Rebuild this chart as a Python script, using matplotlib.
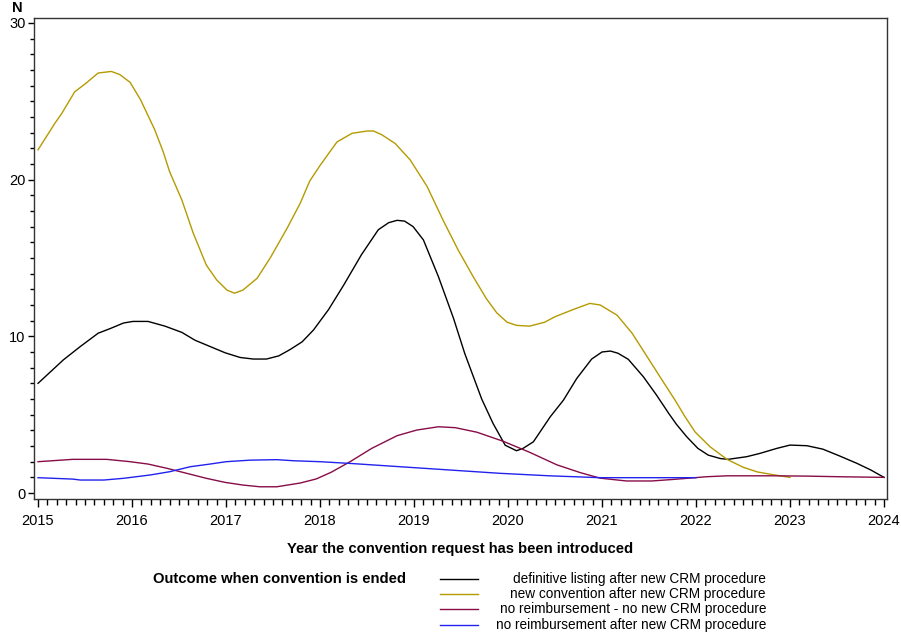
import matplotlib
matplotlib.use("Agg")
import matplotlib.pyplot as plt
from matplotlib.lines import Line2D
from matplotlib.ticker import MultipleLocator

plt.rcParams['font.family'] = ['Liberation Sans', 'DejaVu Sans']

# Valeurs (année, N)
def_years = [2015.00, 2015.27, 2015.45, 2015.64, 2015.77, 2015.91, 2016.01, 2016.17, 2016.35,
             2016.53, 2016.67, 2016.83, 2016.99, 2017.15, 2017.29, 2017.43, 2017.56, 2017.68,
             2017.81, 2017.93, 2018.09, 2018.25, 2018.44, 2018.62, 2018.73, 2018.82, 2018.90,
             2018.99, 2019.10, 2019.26, 2019.42, 2019.54, 2019.72, 2019.84, 2019.97, 2020.09,
             2020.16, 2020.27, 2020.45, 2020.59, 2020.73, 2020.89, 2021.00, 2021.09, 2021.17,
             2021.28, 2021.44, 2021.58, 2021.71, 2021.79, 2021.90, 2022.02, 2022.13, 2022.26,
             2022.34, 2022.54, 2022.68, 2022.86, 2023.00, 2023.18, 2023.35, 2023.53, 2023.71,
             2023.86, 2024.00]
def_n = [7.0, 8.5, 9.35, 10.2, 10.5, 10.85, 10.95, 10.95, 10.65,
         10.25, 9.75, 9.35, 8.95, 8.65, 8.55, 8.55, 8.75, 9.15,
         9.65, 10.4, 11.7, 13.25, 15.2, 16.8, 17.25, 17.4, 17.35,
         17.0, 16.15, 13.8, 11.15, 8.9, 6.0, 4.45, 3.05, 2.7,
         2.85, 3.27, 4.87, 5.93, 7.3, 8.55, 9.0, 9.06, 8.92,
         8.53, 7.42, 6.25, 5.08, 4.4, 3.6, 2.85, 2.42, 2.2,
         2.15, 2.32, 2.53, 2.85, 3.06, 3.02, 2.8, 2.36, 1.9,
         1.47, 1.0]

conv_years = [2015.00, 2015.18, 2015.25, 2015.39, 2015.50, 2015.64, 2015.78, 2015.87, 2015.98,
              2016.09, 2016.24, 2016.33, 2016.40, 2016.53, 2016.65, 2016.79, 2016.90, 2017.01,
              2017.09, 2017.18, 2017.33, 2017.47, 2017.65, 2017.79, 2017.89, 2018.00, 2018.18,
              2018.34, 2018.50, 2018.57, 2018.66, 2018.80, 2018.96, 2019.14, 2019.31, 2019.47,
              2019.63, 2019.77, 2019.88, 2019.99, 2020.09, 2020.23, 2020.39, 2020.50, 2020.69,
              2020.87, 2020.98, 2021.16, 2021.32, 2021.48, 2021.64, 2021.78, 2021.88, 2021.99,
              2022.15, 2022.33, 2022.50, 2022.65, 2022.79, 2023.00]
conv_n = [21.9, 23.6, 24.2, 25.6, 26.1, 26.8, 26.9, 26.7, 26.2,
          25.1, 23.2, 21.8, 20.5, 18.7, 16.6, 14.55, 13.6, 12.95,
          12.75, 12.95, 13.7, 15.0, 16.9, 18.5, 19.9, 20.9, 22.4,
          22.95, 23.1, 23.1, 22.85, 22.3, 21.25, 19.55, 17.4, 15.5,
          13.8, 12.4, 11.5, 10.9, 10.7, 10.65, 10.9, 11.25, 11.7,
          12.1, 12.0, 11.35, 10.2, 8.7, 7.2, 5.9, 4.9, 3.9,
          2.95, 2.15, 1.65, 1.35, 1.2, 1.0]

noreimb_years = [2015.00, 2015.37, 2015.73, 2015.98, 2016.17, 2016.37, 2016.58, 2016.79, 2016.99,
                 2017.18, 2017.36, 2017.54, 2017.79, 2017.96, 2018.12, 2018.32, 2018.55, 2018.82,
                 2019.03, 2019.26, 2019.44, 2019.67, 2019.95, 2020.23, 2020.52, 2020.77, 2020.98,
                 2021.26, 2021.53, 2021.76, 2021.99, 2022.11, 2022.33, 2022.82, 2023.18, 2023.53,
                 2024.00]
noreimb_n = [2.0, 2.15, 2.15, 2.0, 1.85, 1.58, 1.26, 0.94, 0.68,
             0.51, 0.40, 0.40, 0.64, 0.9, 1.33, 2.0, 2.85, 3.66,
             4.02, 4.23, 4.17, 3.88, 3.3, 2.6, 1.8, 1.3, 0.95,
             0.77, 0.77, 0.87, 0.98, 1.04, 1.10, 1.10, 1.08, 1.04,
             1.0]

after_years = [2015.00, 2015.37, 2015.45, 2015.70, 2015.91, 2016.19, 2016.40, 2016.62, 2016.83,
               2017.00, 2017.26, 2017.54, 2017.72, 2018.00, 2018.32, 2018.85, 2019.38, 2019.91,
               2020.44, 2020.98, 2022.00]
after_n = [0.98, 0.89, 0.83, 0.83, 0.94, 1.15, 1.36, 1.68, 1.85,
           2.0, 2.1, 2.13, 2.06, 2.0, 1.89, 1.68, 1.47, 1.26,
           1.10, 0.98, 0.98]

series = [
    (def_years, def_n, 'definitive listing after new CRM procedure', '#000000'),
    (conv_years, conv_n, 'new convention after new CRM procedure', '#B59A00'),
    (noreimb_years, noreimb_n, 'no reimbursement - no new CRM procedure', '#880C48'),
    (after_years, after_n, 'no reimbursement after new CRM procedure', '#2222EE'),
]

fig = plt.figure(figsize=(9.01, 6.38), dpi=100)
W, H = 901, 638
ax = fig.add_axes([34 / W, 1 - 499 / H, (887 - 34) / W, (499 - 18) / H])

for x, y, lab, col in series:
    ax.plot(x, y, color=col, lw=1.0, label=lab)

ax.set_xlim(2014.957, 2024.032)
ax.set_ylim(-0.38, 30.31)
ax.set_xticks(range(2015, 2025))
ax.set_yticks([0, 10, 20, 30])
ax.xaxis.set_minor_locator(MultipleLocator(0.1))
ax.yaxis.set_minor_locator(MultipleLocator(1))
ax.tick_params(axis='x', which='major', length=6, width=1, labelsize=10.5, pad=5)
ax.tick_params(axis='x', which='minor', length=4, width=1)
ax.tick_params(axis='y', which='major', length=4, width=1, labelsize=10.5, pad=2)
ax.tick_params(axis='y', which='minor', length=3, width=1)
for s in ax.spines.values():
    s.set_linewidth(1.0)
    s.set_color('#333333')

ax.set_xlabel('Year the convention request has been introduced', fontsize=10.6,
              fontweight='bold', labelpad=10)
fig.text(12 / W, 1 - 8 / H, 'N', fontsize=10.5, fontweight='bold', ha='left', va='center')

# Légende manuelle
fig.text(153 / W, 1 - 579 / H, 'Outcome when convention is ended', fontsize=10.6,
         fontweight='bold', ha='left', va='center')
rows = [579, 594, 609, 625]
for (x, y, lab, col), r in zip(series, rows):
    fig.add_artist(Line2D([440 / W, 478 / W], [1 - r / H, 1 - r / H], color=col, lw=1.0,
                          transform=fig.transFigure))
    fig.text(766 / W, 1 - r / H, lab, fontsize=9.8, ha='right', va='center')

fig.savefig('out.png', dpi=100)
